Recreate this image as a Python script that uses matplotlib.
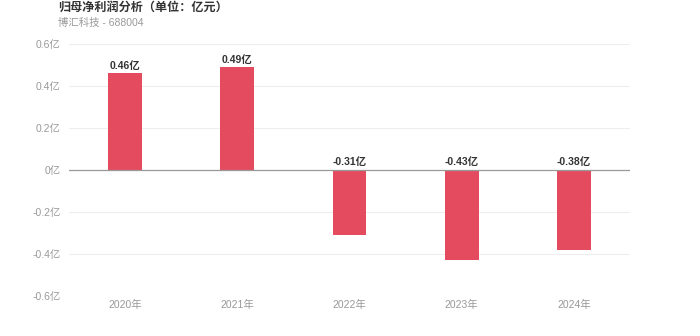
import matplotlib
matplotlib.use('Agg')
import matplotlib.pyplot as plt
import numpy as np

plt.rcParams['font.family'] = ['Liberation Sans', 'Noto Sans CJK SC', 'DejaVu Sans']

# 年份与归母净利润（亿元）
years = ['2020年', '2021年', '2022年', '2023年', '2024年']
profit = [0.46, 0.49, -0.31, -0.43, -0.38]
yticks = [-0.6, -0.4, -0.2, 0, 0.2, 0.4, 0.6]
ytick_labels = ['-0.6亿', '-0.4亿', '-0.2亿', '0亿', '0.2亿', '0.4亿', '0.6亿']

fig = plt.figure(figsize=(7, 3.36), dpi=100)
ax = fig.add_axes([0.0986, 0.119, 0.8014, 0.75])

x = np.arange(len(years))
ax.bar(x, profit, width=0.3, color='#e54b5e', zorder=3)

# 柱顶标注
for xi, v in zip(x, profit):
    ax.text(xi, max(v, 0) + 0.012, '%.2f亿' % v, ha='center', va='bottom',
            fontsize=7.5, fontweight='bold', color='#333333')

ax.set_xlim(-0.5, len(years) - 0.5)
ax.set_ylim(-0.6, 0.6)
ax.set_yticks(yticks)
ax.set_yticklabels(ytick_labels)
ax.set_xticks(x)
ax.set_xticklabels(years)
ax.tick_params(axis='both', length=0, labelsize=7.5, labelcolor='#999999')
ax.tick_params(axis='y', pad=6)
ax.tick_params(axis='x', pad=3)

ax.grid(axis='y', color='#eeeeee', linewidth=0.8, zorder=0)
ax.axhline(0, color='#999999', linewidth=0.9, zorder=4)
for s in ax.spines.values():
    s.set_visible(False)

fig.text(58 / 700, 1 - 8 / 336, '归母净利润分析（单位：亿元）', fontsize=8.7,
         fontweight='bold', color='#333333', va='center', ha='left')
fig.text(58 / 700, 1 - 23 / 336, '博汇科技 - 688004', fontsize=7.5,
         color='#999999', va='center', ha='left')

fig.savefig('out.png', dpi=100)
